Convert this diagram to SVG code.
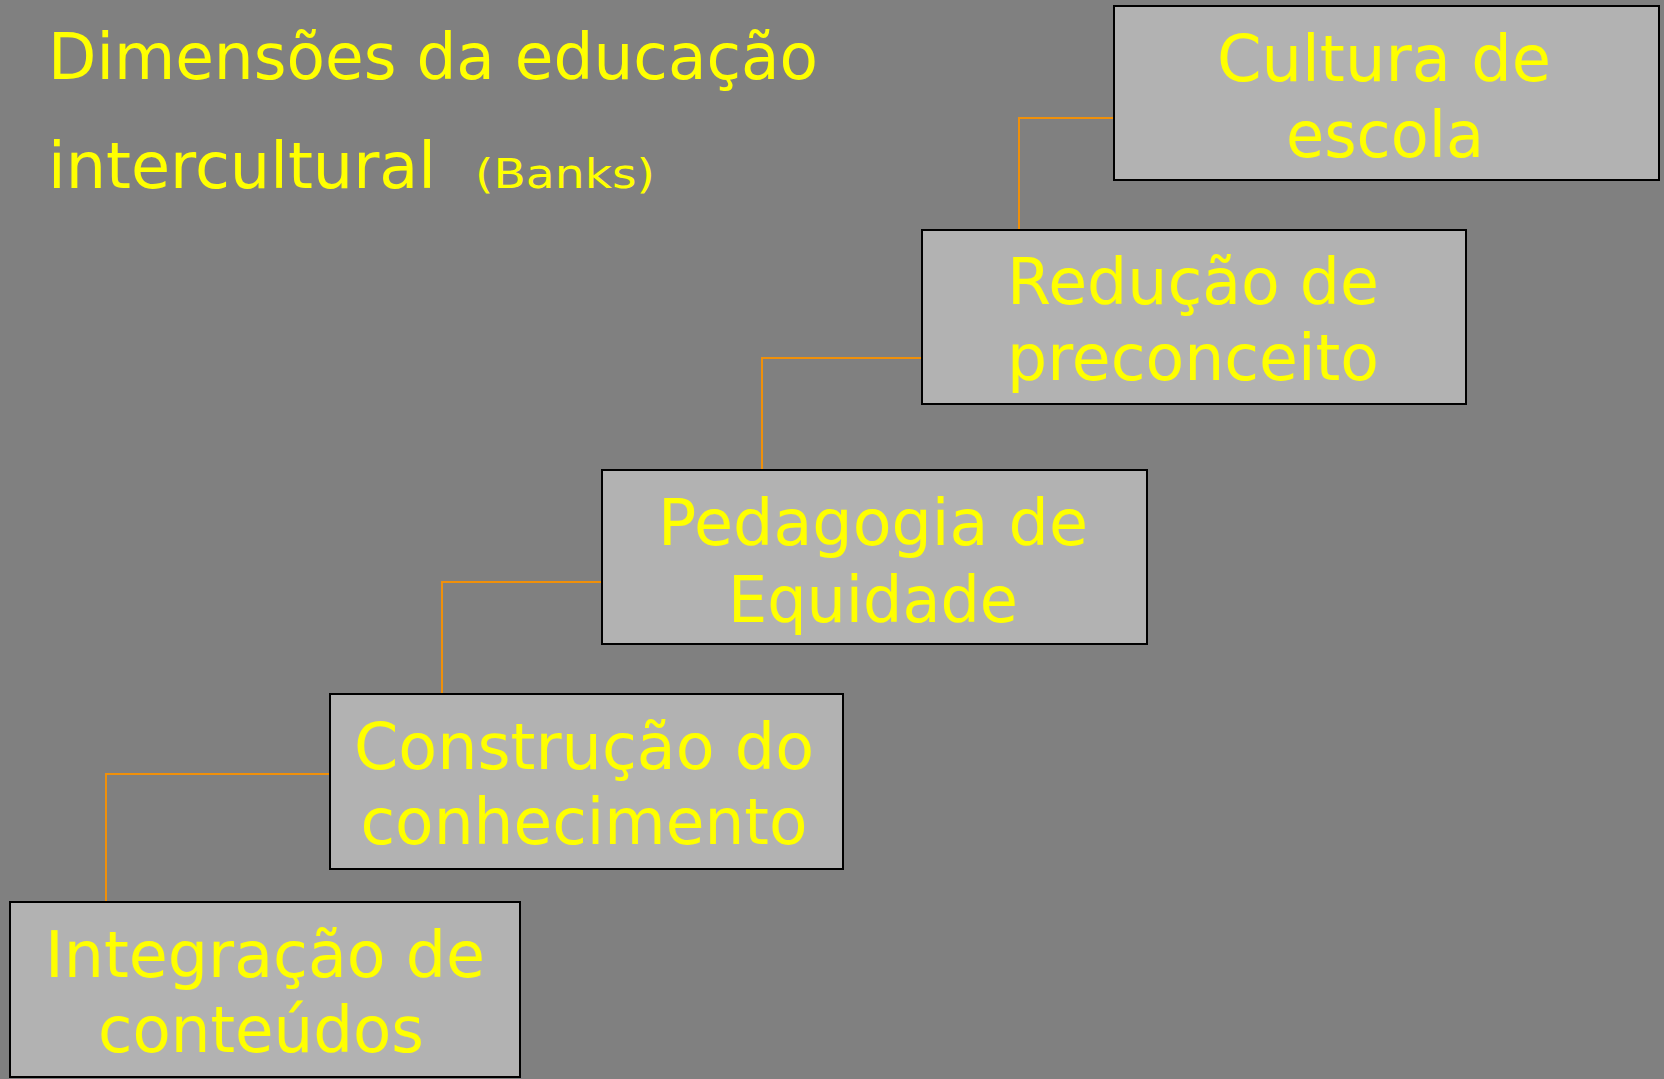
<svg xmlns="http://www.w3.org/2000/svg" width="1664" height="1079" viewBox="0 0 1664 1079">
<style>
.box{fill:#B2B2B2;stroke:#000;stroke-width:2}
.t{font-family:"DejaVu Sans","Liberation Sans",sans-serif;fill:#FFFF00;font-size:64px}
.c{text-anchor:middle}
.conn{fill:none;stroke:#F0900A;stroke-width:2}
</style>
<rect width="1664" height="1079" fill="#808080"/>
<g id="title">
<text class="t" x="48" y="79" textLength="770" lengthAdjust="spacingAndGlyphs">Dimensões da educação</text>
<text class="t" x="48" y="188" textLength="388" lengthAdjust="spacingAndGlyphs">intercultural</text>
<text class="t" x="475" y="188" font-size="40" style="font-size:40px" textLength="180" lengthAdjust="spacingAndGlyphs">(Banks)</text>
</g>
<g id="connectors">
<polyline class="conn" points="1114,118 1019,118 1019,230"/>
<polyline class="conn" points="922,358 762,358 762,470"/>
<polyline class="conn" points="602,582 442,582 442,694"/>
<polyline class="conn" points="330,774 106,774 106,902"/>
</g>
<g id="cultura">
<rect class="box" x="1114" y="6" width="545" height="174"/>
<text class="t c" x="1384" y="81" textLength="334" lengthAdjust="spacingAndGlyphs">Cultura de</text>
<text class="t c" x="1385" y="157" textLength="198" lengthAdjust="spacingAndGlyphs">escola</text>
</g>
<g id="reducao">
<rect class="box" x="922" y="230" width="544" height="174"/>
<text class="t c" x="1193" y="304" textLength="372" lengthAdjust="spacingAndGlyphs">Redução de</text>
<text class="t c" x="1193" y="380" textLength="372" lengthAdjust="spacingAndGlyphs">preconceito</text>
</g>
<g id="pedagogia">
<rect class="box" x="602" y="470" width="545" height="174"/>
<text class="t c" x="873" y="545" textLength="430" lengthAdjust="spacingAndGlyphs">Pedagogia de</text>
<text class="t c" x="873" y="622" textLength="290" lengthAdjust="spacingAndGlyphs">Equidade</text>
</g>
<g id="construcao">
<rect class="box" x="330" y="694" width="513" height="175"/>
<text class="t c" x="584" y="769" textLength="460" lengthAdjust="spacingAndGlyphs">Construção do</text>
<text class="t c" x="584" y="844" textLength="447" lengthAdjust="spacingAndGlyphs">conhecimento</text>
</g>
<g id="integracao">
<rect class="box" x="10" y="902" width="510" height="175"/>
<text class="t c" x="265" y="977" textLength="440" lengthAdjust="spacingAndGlyphs">Integração de</text>
<text class="t c" x="261" y="1052" textLength="326" lengthAdjust="spacingAndGlyphs">conteúdos</text>
</g>
</svg>
